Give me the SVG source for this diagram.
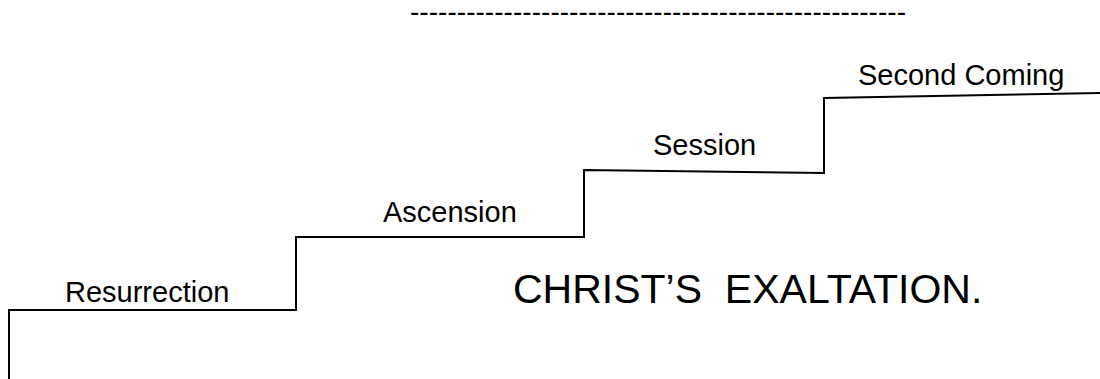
<svg xmlns="http://www.w3.org/2000/svg" width="1100" height="379" viewBox="0 0 1100 379">
  <style>
    .step { fill: none; stroke: #000; stroke-width: 2; stroke-linejoin: miter; }
    .label { font-family: "Liberation Sans", Arial, sans-serif; font-size: 29px; fill: #000; }
    .title { font-family: "Liberation Sans", Arial, sans-serif; font-size: 41px; fill: #000; }
    .rule { font-family: "Liberation Sans", Arial, sans-serif; font-size: 28px; fill: #000; }
  </style>
  <rect width="1100" height="379" fill="#fff"/>

  <!-- dashed rule across the top -->
  <text class="rule" x="410" y="21" textLength="496" lengthAdjust="spacing">-----------------------------------------------------</text>

  <!-- staircase -->
  <g id="connectors">
    <path class="step" d="M9,379 V310 H296 V237 H584 V170 L824,173 V98 L1100,93"/>
  </g>

  <g id="resurrection">
    <text class="label" x="65" y="302">Resurrection</text>
  </g>
  <g id="ascension">
    <text class="label" x="383" y="222">Ascension</text>
  </g>
  <g id="session">
    <text class="label" x="653" y="155">Session</text>
  </g>
  <g id="second-coming">
    <text class="label" x="858" y="85">Second Coming</text>
  </g>

  <g id="title">
    <text class="title" x="513" y="303" xml:space="preserve">CHRIST’S  EXALTATION.</text>
  </g>
</svg>
